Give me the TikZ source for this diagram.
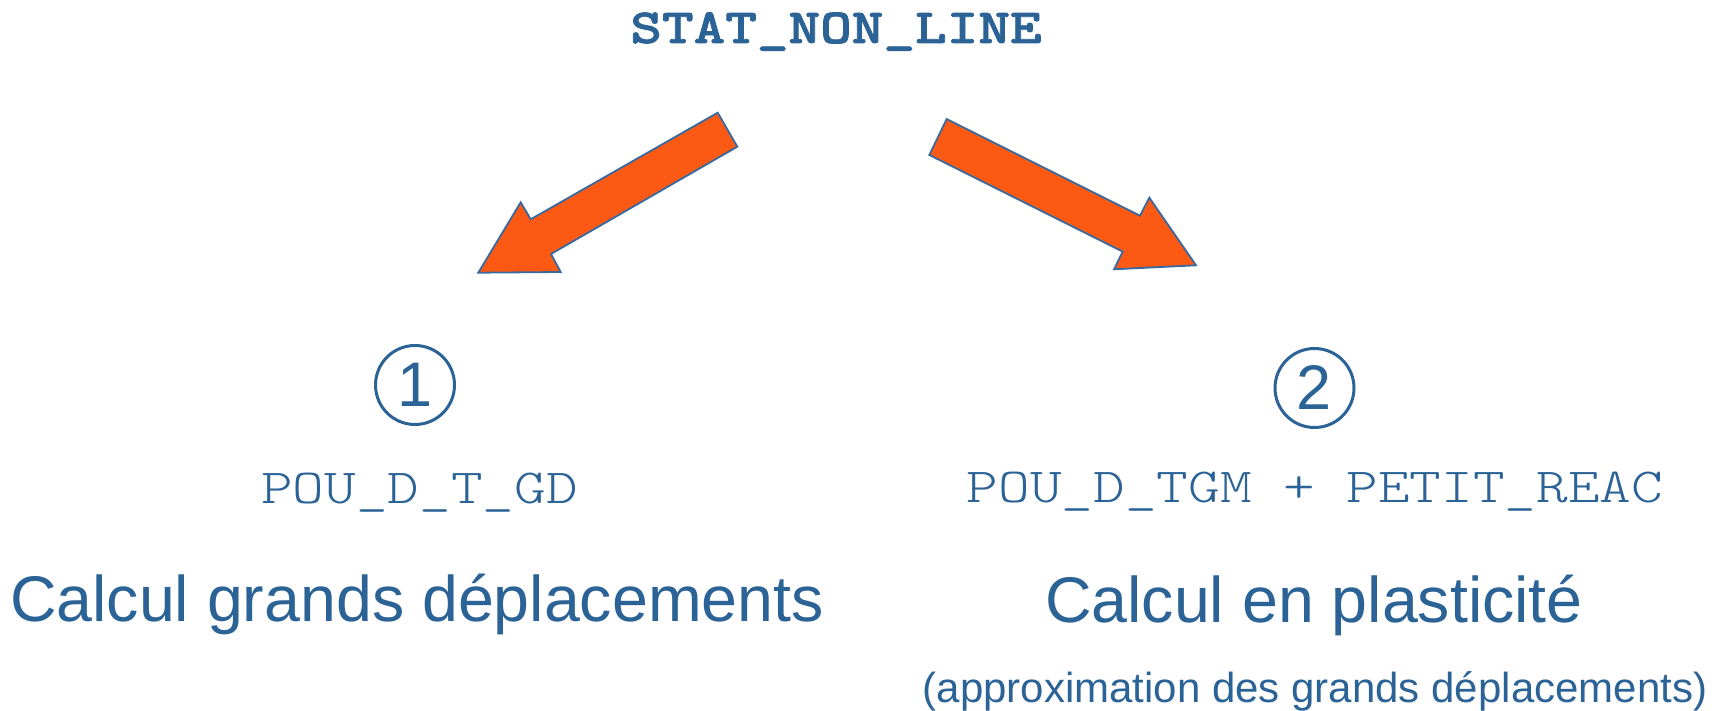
\documentclass[tikz,border=0pt]{standalone}
\usepackage{fontspec}
\setmainfont{Liberation Sans}
\newfontfamily\codefont{lmmonolt10-regular.otf}[BoldFont=lmmonolt10-bold.otf, BoldFeatures={FakeBold=1.6}, FakeStretch=1.23]
\definecolor{txtblue}{RGB}{44,99,150}
\definecolor{arrfill}{RGB}{252,90,20}
\definecolor{arredge}{RGB}{55,105,160}
\tikzset{
  codetxt/.style={inner sep=0pt, anchor=base, text=txtblue, font=\fontsize{49}{56}\selectfont\codefont},
  bigtxt/.style={inner sep=0pt, anchor=base, text=txtblue, font=\fontsize{64.5}{70}\selectfont},
  smalltxt/.style={inner sep=0pt, anchor=base, text=txtblue, font=\fontsize{42}{48}\selectfont},
  numcirc/.style={circle, draw=txtblue, line width=3pt, minimum size=79pt, inner sep=0pt, text=txtblue, font=\fontsize{63}{63}\selectfont},
  blockarrow/.style={fill=arrfill, draw=arredge, line width=1.8pt, line join=miter}
}
\begin{document}
\begin{tikzpicture}[x=1pt,y=-1pt]
\useasboundingbox (0,0) rectangle (1726,711);
\node[codetxt, font=\fontsize{49}{56}\selectfont\codefont\bfseries] (title) at (836,43) {STAT\_NON\_LINE};
% block arrows
\draw[blockarrow] (717.7,112.7) -- (737.3,146.7) -- (551,254) -- (560.7,272) -- (478.3,272.7) -- (520.7,202.3) -- (530.7,219.3) -- cycle;
\draw[blockarrow] (946.7,119) -- (929.3,155) -- (1122.7,251.7) -- (1114,269.3) -- (1196,265.3) -- (1149.3,197.7) -- (1140,215.7) -- cycle;
% circled numbers
\node[numcirc] (n1) at (415,385) {1};
\node[numcirc] (n2) at (1314.5,388) {2};
% code lines
\node[codetxt] (c1) at (419.5,503) {POU\_D\_T\_GD};
\node[codetxt] (c2) at (1315,502) {POU\_D\_TGM + PETIT\_REAC};
% descriptions
\node[bigtxt] (d1) at (417,621) {Calcul grands déplacements};
\node[bigtxt] (d2) at (1314,622) {Calcul en plasticité};
\node[smalltxt] (d3) at (1315,702) {(approximation des grands déplacements)};
\end{tikzpicture}
\end{document}
